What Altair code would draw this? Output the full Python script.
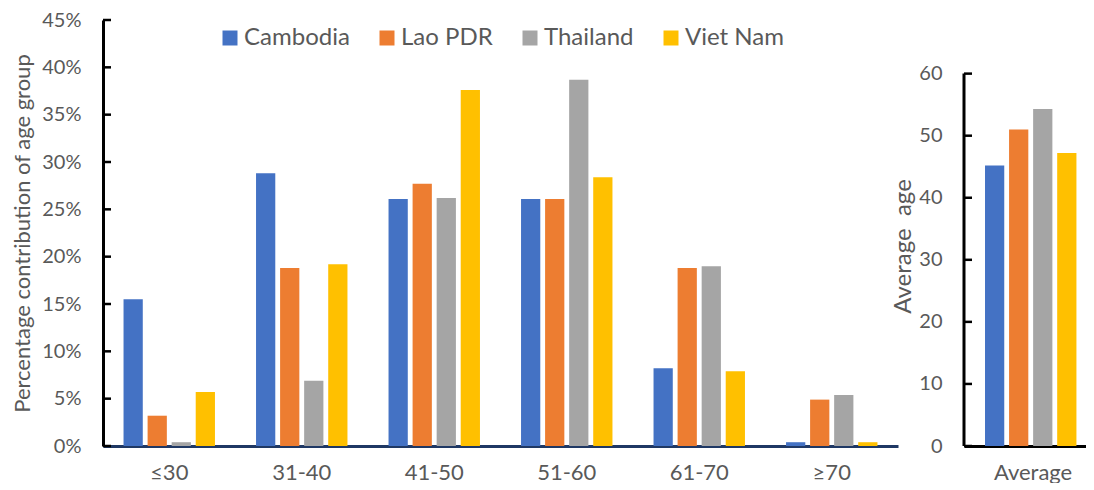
import altair as alt
import pandas as pd

groups = ["≤30", "31-40", "41-50", "51-60", "61-70", "≥70"]
countries = ["Cambodia", "Lao PDR", "Thailand", "Viet Nam"]
cambodia = [15.5, 28.8, 26.1, 26.1, 8.2, 0.4]
lao = [3.2, 18.8, 27.7, 26.1, 18.8, 4.9]
thailand = [0.4, 6.9, 26.2, 38.7, 19.0, 5.4]
vietnam = [5.7, 19.2, 37.6, 28.4, 7.9, 0.4]
avg_age = [45.2, 51.0, 54.3, 47.2]
pct_ticks = [0, 5, 10, 15, 20, 25, 30, 35, 40, 45]
age_ticks = [0, 10, 20, 30, 40, 50, 60]
colors = ["#4472C4", "#ED7D31", "#A5A5A5", "#FFC000"]

FONT = "Lato"
GREY = "#595959"

rows = []
for c, vals in zip(countries, [cambodia, lao, thailand, vietnam]):
    for g, v in zip(groups, vals):
        rows.append({"group": g, "country": c, "value": v})
df = pd.DataFrame(rows)

df2 = pd.DataFrame({"label": ["Average"] * 4, "country": countries, "value": avg_age})
pct_tick_df = pd.DataFrame({"value": pct_ticks})
age_tick_df = pd.DataFrame({"value": age_ticks})
axis_line = pd.DataFrame({"value": [0], "value2": [60]})

left_bars = alt.Chart(df).mark_bar().encode(
    x=alt.X("group:N", sort=groups,
            scale=alt.Scale(paddingInner=0.31, paddingOuter=0.155),
            axis=alt.Axis(title=None, ticks=False, domainColor="#1F3864", domainWidth=3,
                          labelPadding=16, labelFontSize=22, labelAngle=0,
                          labelColor=GREY, labelFont=FONT)),
    xOffset=alt.XOffset("country:N", sort=countries, scale=alt.Scale(paddingInner=0.2)),
    y=alt.Y("value:Q", scale=alt.Scale(domain=[0, 45], nice=False),
            axis=alt.Axis(values=pct_ticks, labelExpr="datum.value + '%'",
                          title="Percentage contribution of age group", grid=False,
                          domainColor="black", domainWidth=3, ticks=False,
                          labelPadding=22, labelFontSize=20,
                          labelColor=GREY, labelFont=FONT, titleFont=FONT,
                          titleFontSize=22, titleFontWeight="normal", titleColor=GREY,
                          titlePadding=7)),
    color=alt.Color("country:N", sort=countries,
                    scale=alt.Scale(domain=countries, range=colors),
                    legend=alt.Legend(title=None, orient="none", legendX=115, legendY=6,
                                      direction="horizontal", columns=4,
                                      symbolType="square", symbolSize=225,
                                      symbolStrokeWidth=0, labelFontSize=24,
                                      labelColor=GREY, labelFont=FONT,
                                      columnPadding=25, labelOffset=2)),
)

left_ticks = alt.Chart(pct_tick_df).mark_rule(color="black", strokeWidth=2.5).encode(
    x=alt.value(0), x2=alt.value(8), y=alt.Y("value:Q")
)

left = alt.layer(left_bars, left_ticks).properties(width=795, height=426)

right_bars = alt.Chart(df2).mark_bar().encode(
    x=alt.X("label:N",
            scale=alt.Scale(paddingInner=0, paddingOuter=0.135, align=0.81),
            axis=alt.Axis(title=None, ticks=False, domainColor="black", domainWidth=3,
                          labelPadding=16, labelFontSize=22, labelAngle=0,
                          labelColor=GREY, labelFont=FONT)),
    xOffset=alt.XOffset("country:N", sort=countries, scale=alt.Scale(paddingInner=0.22)),
    y=alt.Y("value:Q", scale=alt.Scale(domain=[0, 68.64], nice=False),
            axis=alt.Axis(values=age_ticks, title="Average\u00a0\u00a0age",
                          grid=False, domain=False, ticks=False,
                          labelPadding=22, labelFontSize=20, labelColor=GREY,
                          labelFont=FONT, titleFont=FONT, titleFontSize=24,
                          titleFontWeight="normal", titleColor=GREY, titlePadding=3,
                          titleY=226)),
    color=alt.Color("country:N", sort=countries,
                    scale=alt.Scale(domain=countries, range=colors), legend=None),
)

right_rule = alt.Chart(axis_line).mark_rule(color="black", strokeWidth=3).encode(
    x=alt.value(0),
    y=alt.Y("value:Q"),
    y2=alt.Y2("value2"),
)

right_ticks = alt.Chart(age_tick_df).mark_rule(color="black", strokeWidth=2.5).encode(
    x=alt.value(0), x2=alt.value(8), y=alt.Y("value:Q")
)

right = alt.layer(right_bars, right_rule, right_ticks).properties(width=122, height=426)

chart = alt.hconcat(left, right, spacing=66, bounds="flush").resolve_scale(
    color="independent"
).resolve_legend(color="independent").properties(
    padding={"left": 3, "top": 2, "right": 0, "bottom": 0},
    background="white",
).configure_view(stroke=None)

chart.save("out.html", embed_options={"renderer": "svg", "actions": False})
